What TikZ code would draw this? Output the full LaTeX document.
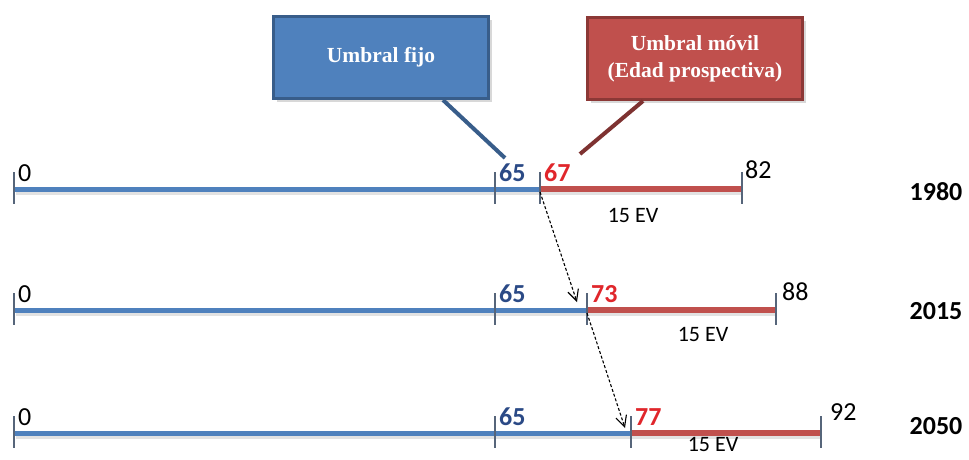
\documentclass[tikz,border=0pt]{standalone}
\usepackage{fontspec}
\setmainfont{Carlito}
\newfontfamily\cajafont{Liberation Serif}
\usetikzlibrary{calc,shadows,arrows.meta}

\definecolor{ejeazul}{HTML}{4F81BD}
\definecolor{ejerojo}{HTML}{C0504D}
\definecolor{bordeazul}{HTML}{385D8A}
\definecolor{borderojo}{HTML}{8C3836}
\definecolor{numazul}{HTML}{2B4A86}
\definecolor{numrojo}{HTML}{E0262B}
\definecolor{marca}{HTML}{56657A}

\tikzset{
  numero/.style={anchor=base west, inner sep=0pt, font=\fontsize{26}{30}\selectfont},
  ev/.style={inner sep=0pt, font=\fontsize{22}{26}\selectfont},
  anio/.style={inner sep=0pt, font=\fontsize{26}{30}\selectfont\bfseries},
  sombra/.style={gray!45, opacity=.5, line width=4pt},
  caja/.style={line width=3pt, minimum width=215pt, minimum height=82pt,
    text=white, align=center, font=\cajafont\bfseries\fontsize{21.5}{27}\selectfont,
    drop shadow={shadow xshift=3pt, shadow yshift=-3pt, fill=gray!60, opacity=.5}},
  flecha/.style={dash pattern=on 3pt off 2pt, line width=1.1pt, -{Straight Barb[length=11pt, width=11pt]}},
  guia/.style={line width=4pt}
}

\begin{document}
\begin{tikzpicture}[x=1pt,y=-1pt]
\useasboundingbox (0,0) rectangle (969,459);

% una recta por cada año
\foreach \yr/\y/\m/\mv/\e/\ev/\dx/\dy/\sx/\sy/\ty in
  {1980/189/540/67/742/82/3/11/633/215/192,
   2015/310/587/73/776/88/6/10/703/334/311,
   2050/433/631/77/821/92/9/13/713/444/426}{
  \draw[sombra] (16,\y+4) -- (\e,\y+4);
  \draw[ejeazul, line width=5pt] (14,\y) -- (\m,\y);
  \draw[ejerojo, line width=6pt] (\m,\y) -- (\e,\y);
  \foreach \x in {14,495,\m,\e}
    \draw[marca, line width=1.2pt] (\x,\y-17) -- (\x,\y+15);
  \coordinate (umbral\yr) at (\m,\y);
  \node[numero] (cero\yr) at (18,\y-8) {0};
  \node[numero, numazul, font=\fontsize{26}{30}\selectfont\bfseries] (fijo\yr) at (499,\y-8) {65};
  \node[numero, numrojo, font=\fontsize{26}{30}\selectfont\bfseries] (movil\yr) at (\m+4,\y-8) {\mv};
  \node[numero] (fin\yr) at (\e+\dx,\y-\dy) {\ev};
  \node[ev] (ev\yr) at (\sx,\sy) {15 EV};
  \node[anio] (anio\yr) at (936,\ty) {\yr};
}

% desplazamiento del umbral
\draw[flecha] ($(umbral1980)+(0,3)$) -- ($(umbral2015)+(-10,-8)$);
\draw[flecha] ($(umbral2015)+(0,3)$) -- ($(umbral2050)+(-6,-5)$);

% cajas
\node[caja, fill=ejeazul, draw=bordeazul] (cajafijo) at (381,57.5) {Umbral fijo};
\node[caja, fill=ejerojo, draw=borderojo] (cajamovil) at (695,58.5) {Umbral móvil\\(Edad prospectiva)};

\coordinate (puntafijo) at (505,158);
\coordinate (puntamovil) at (580,154);
\draw[guia, bordeazul] ($(cajafijo.south east)+(-47,0)$) -- (puntafijo);
\draw[guia, borderojo!90!black] ($(cajamovil.south west)+(57,0)$) -- (puntamovil);
\end{tikzpicture}
\end{document}
